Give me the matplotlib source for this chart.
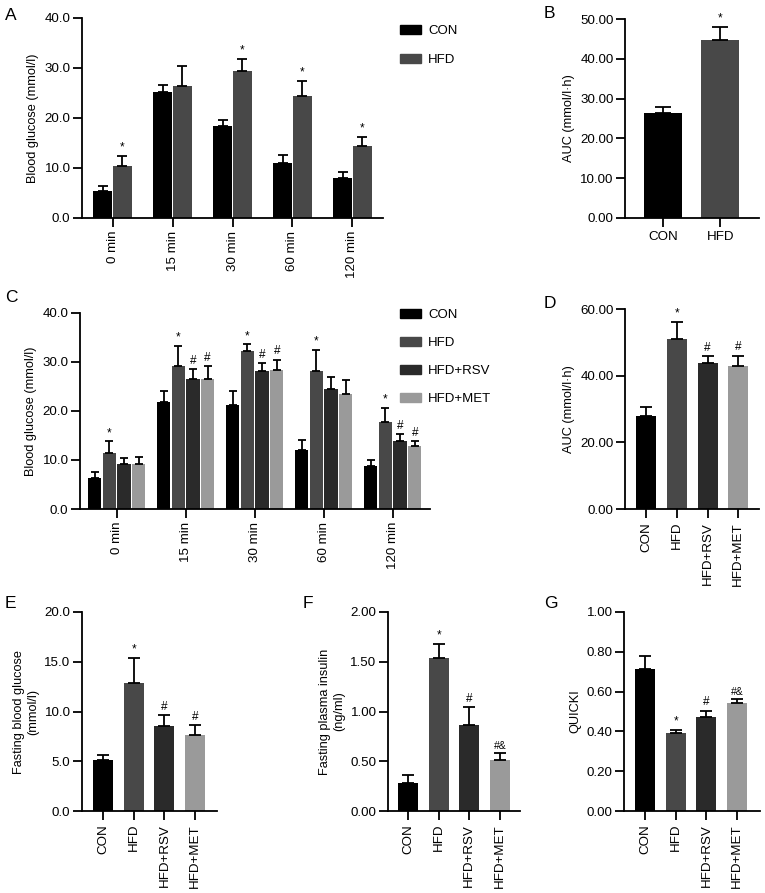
import matplotlib
matplotlib.use("Agg")
import matplotlib.pyplot as plt
from matplotlib.patches import Patch
import numpy as np

plt.rcParams['font.family'] = ['Liberation Sans', 'DejaVu Sans']
plt.rcParams['axes.linewidth'] = 1.3

# colours per group
colors = {'CON': '#000000', 'HFD': '#484848', 'HFD+RSV': '#2a2a2a', 'HFD+MET': '#9a9a9a'}

# Panel A - OGTT, CON vs HFD
times = ['0 min', '15 min', '30 min', '60 min', '120 min']
a_con = [5.5, 25.2, 18.5, 11.1, 8.1]
a_con_err = [0.9, 1.5, 1.1, 1.6, 1.2]
a_hfd = [10.4, 26.5, 29.5, 24.5, 14.4]
a_hfd_err = [2.1, 4.0, 2.4, 2.9, 1.8]
a_hfd_marks = ['*', '', '*', '*', '*']

# Panel B - AUC
b_groups = ['CON', 'HFD']
b_vals = [26.5, 44.8]
b_err = [1.3, 3.2]
b_marks = ['', '*']

# Panel C - OGTT, four groups
c_groups = ['CON', 'HFD', 'HFD+RSV', 'HFD+MET']
c_vals = {
    'CON': [6.4, 21.9, 21.3, 12.0, 8.7],
    'HFD': [11.5, 29.1, 32.2, 28.2, 17.8],
    'HFD+RSV': [9.2, 26.5, 28.1, 24.4, 13.9],
    'HFD+MET': [9.2, 26.5, 28.3, 23.5, 12.9],
}
c_err = {
    'CON': [1.1, 2.1, 2.8, 2.0, 1.2],
    'HFD': [2.3, 4.2, 1.4, 4.2, 2.9],
    'HFD+RSV': [1.3, 2.1, 1.6, 2.5, 1.4],
    'HFD+MET': [1.4, 2.6, 2.2, 2.8, 1.0],
}
c_marks = {
    'CON': ['', '', '', '', ''],
    'HFD': ['*', '*', '*', '*', '*'],
    'HFD+RSV': ['', '#', '#', '', '#'],
    'HFD+MET': ['', '#', '#', '', '#'],
}

# Panels D-G
groups4 = ['CON', 'HFD', 'HFD+RSV', 'HFD+MET']
d_vals = [28.0, 51.0, 43.9, 42.8]
d_err = [2.7, 5.1, 1.9, 3.2]
d_marks = ['', '*', '#', '#']

e_vals = [5.15, 12.9, 8.5, 7.6]
e_err = [0.5, 2.5, 1.15, 1.0]
e_marks = ['', '*', '#', '#']

f_vals = [0.277, 1.54, 0.865, 0.51]
f_err = [0.087, 0.14, 0.18, 0.068]
f_marks = ['', '*', '#', '#&']

g_vals = [0.716, 0.391, 0.474, 0.543]
g_err = [0.065, 0.015, 0.03, 0.018]
g_marks = ['', '*', '#', '#&']

W, H = 765, 893
fig = plt.figure(figsize=(W / 100, H / 100), dpi=100)


def make_ax(l, r, t, b):
    return fig.add_axes([l / W, 1 - b / H, (r - l) / W, (b - t) / H])


def style(ax, ymax, step, fmt, ylabel, rot=90):
    ax.spines['top'].set_visible(False)
    ax.spines['right'].set_visible(False)
    ax.set_ylim(0, ymax)
    ax.set_yticks(np.arange(0, ymax + step / 2, step))
    ax.set_yticklabels([fmt.format(v) for v in np.arange(0, ymax + step / 2, step)])
    ax.tick_params(axis='both', direction='out', length=6.3, width=1.3, labelsize=9.6, pad=2)
    ax.tick_params(axis='x', labelrotation=rot, pad=3)
    ax.set_ylabel(ylabel, fontsize=9.2, labelpad=4)


def mark(ax, x, top, text, ymax, fs=8.5):
    if text:
        ax.text(x, top + ymax * 0.012, text, ha='center', va='bottom', fontsize=fs)


def panel_label(x, y, s):
    fig.text(x / W, 1 - y / H, s, fontsize=12.5, ha='left', va='center')


# ---- A ----
axA = make_ax(82, 383, 18, 218)
x = np.arange(len(times))
bw = 0.32
axA.bar(x - 0.165, a_con, bw, color=colors['CON'])
axA.bar(x + 0.165, a_hfd, bw, color=colors['HFD'])
axA.errorbar(x - 0.165, a_con, yerr=[np.zeros(5), a_con_err], fmt='none', ecolor='black', elinewidth=1.3, capsize=3.3, capthick=1.3)
axA.errorbar(x + 0.165, a_hfd, yerr=[np.zeros(5), a_hfd_err], fmt='none', ecolor='black', elinewidth=1.3, capsize=3.3, capthick=1.3)
for i in range(5):
    mark(axA, x[i] + 0.165, a_hfd[i] + a_hfd_err[i], a_hfd_marks[i], 40)
axA.set_xlim(-0.51, 4.51)
axA.set_xticks(x)
axA.set_xticklabels(times)
style(axA, 40, 10, '{:.1f}', 'Blood glucose (mmol/l)')
panel_label(5, 15, 'A')
fig.legend(handles=[Patch(color=colors['CON'], label='CON'), Patch(color=colors['HFD'], label='HFD')],
           loc='upper left', bbox_to_anchor=(400 / W, 1 - 25 / H), frameon=False, fontsize=9.5,
           handlelength=1.6, handleheight=0.7, handletextpad=0.55, labelspacing=1.25,
           borderpad=0, borderaxespad=0)

# ---- B ----
axB = make_ax(625, 759, 19, 218)
xb = np.arange(2)
axB.bar(xb, b_vals, 0.67, color=[colors[g] for g in b_groups])
axB.errorbar(xb, b_vals, yerr=[np.zeros(2), b_err], fmt='none', ecolor='black', elinewidth=1.3, capsize=6, capthick=1.3)
for i in range(2):
    mark(axB, xb[i], b_vals[i] + b_err[i], b_marks[i], 50)
axB.set_xlim(-0.67, 1.68)
axB.set_xticks(xb)
axB.set_xticklabels(b_groups)
style(axB, 50, 10, '{:.2f}', 'AUC (mmol/l·h)', rot=0)
panel_label(544, 13, 'B')

# ---- C ----
axC = make_ax(80, 430, 313, 509)
bw = 0.193
off = 0.213
for j, g in enumerate(c_groups):
    xx = x + (j - 1.5) * off
    axC.bar(xx, c_vals[g], bw, color=colors[g])
    axC.errorbar(xx, c_vals[g], yerr=[np.zeros(5), c_err[g]], fmt='none', ecolor='black', elinewidth=1.3, capsize=2.6, capthick=1.3)
    for i in range(5):
        mark(axC, xx[i], c_vals[g][i] + c_err[g][i], c_marks[g][i], 40)
axC.set_xlim(-0.53, 4.54)
axC.set_xticks(x)
axC.set_xticklabels(times)
style(axC, 40, 10, '{:.1f}', 'Blood glucose (mmol/l)')
panel_label(5, 298, 'C')
fig.legend(handles=[Patch(color=colors[g], label=g) for g in c_groups],
           loc='upper left', bbox_to_anchor=(400 / W, 1 - 309 / H), frameon=False, fontsize=9.5,
           handlelength=1.6, handleheight=0.7, handletextpad=0.55, labelspacing=1.2,
           borderpad=0, borderaxespad=0)


# ---- D, E, F, G ----
def four_bar(ax, vals, err, marks, ymax, step, fmt, ylabel, xlim, cap=4.5, mfs=8.5):
    xs = np.arange(4)
    ax.bar(xs, vals, 0.65, color=[colors[g] for g in groups4])
    ax.errorbar(xs, vals, yerr=[np.zeros(4), err], fmt='none', ecolor='black', elinewidth=1.3, capsize=cap, capthick=1.3)
    for i in range(4):
        mark(ax, xs[i], vals[i] + err[i], marks[i], ymax, fs=mfs if len(marks[i]) < 2 else 7.5)
    ax.set_xlim(*xlim)
    ax.set_xticks(xs)
    ax.set_xticklabels(groups4)
    style(ax, ymax, step, fmt, ylabel)


axD = make_ax(625, 759, 309, 509)
four_bar(axD, d_vals, d_err, d_marks, 60, 20, '{:.2f}', 'AUC (mmol/l·h)', (-0.68, 3.67))
panel_label(544, 303, 'D')

axE = make_ax(82, 217, 612, 811)
four_bar(axE, e_vals, e_err, e_marks, 20, 5, '{:.1f}', 'Fasting blood glucose\n(mmol/l)', (-0.68, 3.71))
panel_label(5, 603, 'E')

axF = make_ax(388, 520, 612, 811)
four_bar(axF, f_vals, f_err, f_marks, 2.0, 0.5, '{:.2f}', 'Fasting plasma insulin\n(ng/ml)', (-0.65, 3.65))
panel_label(303, 603, 'F')

axG = make_ax(624, 760, 612, 811)
four_bar(axG, g_vals, g_err, g_marks, 1.0, 0.2, '{:.2f}', 'QUICKI', (-0.68, 3.74))
panel_label(544, 603, 'G')

fig.savefig('out.png', dpi=100)
